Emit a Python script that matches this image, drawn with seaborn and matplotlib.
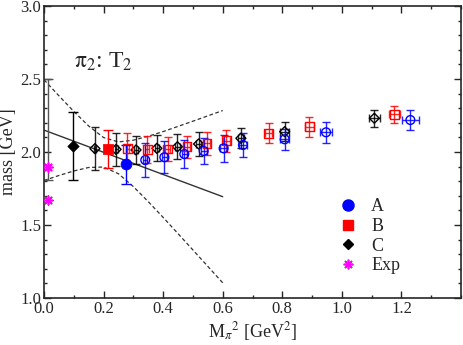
import matplotlib
matplotlib.use('Agg')
import matplotlib.pyplot as plt
from matplotlib.lines import Line2D
from matplotlib.ticker import MultipleLocator
import pandas as pd
import seaborn as sns

# open symbols: ensembles A, B, C
A_x = [0.340, 0.404, 0.471, 0.536, 0.603, 0.668, 0.808, 0.947, 1.230]
A_y = [1.945, 1.964, 1.986, 2.007, 2.025, 2.048, 2.087, 2.135, 2.219]
A_yerr = [0.114, 0.108, 0.097, 0.090, 0.094, 0.082, 0.073, 0.070, 0.066]
A_xerr = [0.007, 0.008, 0.009, 0.010, 0.011, 0.012, 0.015, 0.020, 0.028]

B_x = [0.280, 0.347, 0.415, 0.480, 0.547, 0.612, 0.754, 0.891, 1.176]
B_y = [2.023, 2.018, 2.020, 2.036, 2.059, 2.077, 2.128, 2.173, 2.258]
B_yerr = [0.105, 0.095, 0.085, 0.077, 0.077, 0.077, 0.068, 0.067, 0.060]
B_xerr = [0.006, 0.007, 0.008, 0.009, 0.010, 0.011, 0.013, 0.015, 0.018]

C_x = [0.171, 0.242, 0.309, 0.379, 0.448, 0.519, 0.661, 0.808, 1.109]
C_y = [2.023, 2.018, 2.014, 2.025, 2.036, 2.055, 2.094, 2.139, 2.231]
C_yerr = [0.145, 0.115, 0.095, 0.090, 0.085, 0.080, 0.068, 0.065, 0.060]
C_xerr = [0.004, 0.005, 0.006, 0.007, 0.008, 0.009, 0.011, 0.014, 0.018]

# filled symbols
fill_x = [0.274, 0.216, 0.099]
fill_y = [1.916, 2.020, 2.041]
fill_err = [0.135, 0.130, 0.230]

# experiment
exp_x = [0.015, 0.015]
exp_y = [1.895, 1.672]

# chiral extrapolation
chi_x = [0.015]
chi_y = [2.155]
chi_err = [0.345]
fit_x = [0.0, 0.6]
fit_y = [2.150, 1.694]
band_x = [0.0, 0.05, 0.1, 0.15, 0.2, 0.25, 0.3, 0.35, 0.4, 0.5, 0.6]
band_hi = [2.495, 2.385, 2.278, 2.178, 2.099, 2.069, 2.081, 2.108, 2.140, 2.211, 2.284]
band_lo = [1.805, 1.839, 1.870, 1.894, 1.897, 1.851, 1.763, 1.660, 1.552, 1.329, 1.104]

sns.set_theme(style='ticks')
plt.rcParams['font.family'] = ['Liberation Serif', 'DejaVu Serif']
plt.rcParams['mathtext.fontset'] = 'stix'

fig = plt.figure(figsize=(4.63, 3.45), dpi=100)
ax = fig.add_axes([44 / 463, 47 / 345, 417 / 463, 292 / 345])

blue, red, black, mag = '#0000ff', '#ff0000', '#000000', '#ff00ff'

# fit lines
sns.lineplot(x=fit_x, y=fit_y, ax=ax, color='#333333', lw=1.0, estimator=None, sort=False)
band = pd.DataFrame({'x': band_x, 'hi': band_hi, 'lo': band_lo})
sns.lineplot(data=band, x='x', y='hi', ax=ax, color='#333333', lw=0.9, ls=(0, (3, 2)), estimator=None)
sns.lineplot(data=band, x='x', y='lo', ax=ax, color='#333333', lw=0.9, ls=(0, (3, 2)), estimator=None)
ax.errorbar(chi_x, chi_y, yerr=chi_err, fmt='none', ecolor='#555555', elinewidth=1.0, capsize=3.5)

# open points with error bars
for xs, ys, xe, ye, col, mk in [(C_x, C_y, C_xerr, C_yerr, black, 'D'),
                                (B_x, B_y, B_xerr, B_yerr, red, 's'),
                                (A_x, A_y, A_xerr, A_yerr, blue, 'o')]:
    ax.errorbar(xs, ys, xerr=xe, yerr=ye, fmt='none', ecolor=col, elinewidth=1.0, capsize=3.0, alpha=0.85)
    sns.scatterplot(x=xs, y=ys, ax=ax, marker=mk, s=40 if mk != 'D' else 26,
                    facecolor='none', edgecolor=col, linewidth=1.0, zorder=3)

# filled points
fill_cols = [blue, red, black]
fill_mk = ['o', 's', 'D']
fill_s = [60, 48, 34]
for i in range(3):
    ax.errorbar([fill_x[i]], [fill_y[i]], yerr=[fill_err[i]], fmt='none', ecolor=fill_cols[i],
                elinewidth=1.0, capsize=3.5)
    sns.scatterplot(x=[fill_x[i]], y=[fill_y[i]], ax=ax, marker=fill_mk[i], s=fill_s[i],
                    color=fill_cols[i], edgecolor=fill_cols[i], zorder=4)

sns.scatterplot(x=exp_x, y=exp_y, ax=ax, marker=(8, 2, 0), s=40, color=mag,
                edgecolor=mag, linewidth=1.2, zorder=4)

ax.set_xlim(0, 1.4)
ax.set_ylim(1.0, 3.0)
ax.set_xticks([0.0, 0.2, 0.4, 0.6, 0.8, 1.0, 1.2])
ax.xaxis.set_minor_locator(MultipleLocator(0.1))
ax.yaxis.set_major_locator(MultipleLocator(0.5))
ax.yaxis.set_minor_locator(MultipleLocator(0.1))
ax.tick_params(which='both', direction='in', top=True, right=True, labelsize=12, width=1.0, pad=2)
ax.tick_params(which='major', length=5)
ax.tick_params(which='minor', length=2.5)
for sp in ax.spines.values():
    sp.set_linewidth(1.2)

ax.set_xlabel(r'M$_{\pi}$$^{2}$ [GeV$^{2}$]', fontsize=13, labelpad=2)
ax.set_ylabel('mass [GeV]', fontsize=13)
ax.yaxis.set_label_coords(-0.064, 0.5)
ax.text(0.10, 2.58, r'$\mathrm{\pi_2}$: T$_2$', fontsize=17)

handles = [Line2D([], [], ls='none', marker='o', color=blue, ms=8),
           Line2D([], [], ls='none', marker='s', color=red, ms=7),
           Line2D([], [], ls='none', marker='D', color=black, ms=5.5),
           Line2D([], [], ls='none', marker=(8, 2, 0), color=mag, mec=mag, ms=7, mew=1.2)]
ax.legend(handles, ['A', 'B', 'C', 'Exp'], loc='upper left', bbox_to_anchor=(0.655, 0.385),
          frameon=False, fontsize=13, handletextpad=0.3, labelspacing=0.15, borderpad=0.2)

fig.savefig('out.png', dpi=100)
